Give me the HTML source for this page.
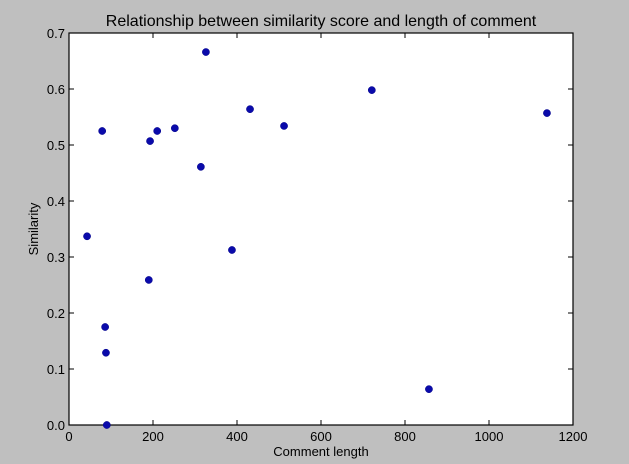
<!DOCTYPE html>
<html><head><meta charset="utf-8"><style>
body{margin:0;background:#bfbfbf;}
svg{display:block;font-family:"Liberation Sans",sans-serif;}
</style></head><body>
<svg id="chart" width="629" height="464">
<rect x="0" y="0" width="629" height="464" fill="#bfbfbf"/>
<text x="321" y="26" text-anchor="middle" font-size="16" fill="#000">Relationship between similarity score and length of comment</text>
<rect x="69" y="33" width="504" height="392" fill="#fff" stroke="#000" stroke-width="1.2"/>
<g id="ticks"></g>
<g id="points"></g>
<text x="321" y="456" text-anchor="middle" font-size="13">Comment length</text>
<text transform="translate(38,229) rotate(-90)" text-anchor="middle" font-size="13">Similarity</text>
</svg>
<script>
const lengths=[43,79,86,88,90,190,193,210,252,314,326,388,431,512,721,857,1138];
const similarity=[0.337,0.525,0.175,0.129,0.0,0.259,0.507,0.525,0.530,0.461,0.666,0.3125,0.564,0.534,0.598,0.064,0.557];
const xTicks=[0,200,400,600,800,1000,1200];
const yTicks=[0,0.1,0.2,0.3,0.4,0.5,0.6,0.7];
const NS="http://www.w3.org/2000/svg";
const L=69,R=573,T=33,B=425;
const sx=v=>L+(v/1200)*(R-L);
const sy=v=>B-(v/0.7)*(B-T);
const tg=document.getElementById('ticks');
function mk(tag,attrs,parent){const e=document.createElementNS(NS,tag);for(const k in attrs)e.setAttribute(k,attrs[k]);parent.appendChild(e);return e;}
xTicks.forEach(v=>{
  const x=sx(v);
  const t1=mk('line',{x1:x,x2:x,y1:B,y2:B-5,stroke:'#000'},tg);
  
  
  const t2=mk('line',{x1:x,x2:x,y1:T,y2:T+5,stroke:'#000'},tg);
  
  
  const lb=mk('text',{x:x,y:B+16,'text-anchor':'middle','font-size':13},tg);
  lb.textContent=v;
  
  
});
yTicks.forEach(v=>{
  const y=sy(v);
  const t1=mk('line',{x1:L,x2:L+5,y1:y,y2:y,stroke:'#000'},tg);
  
  
  const t2=mk('line',{x1:R,x2:R-5,y1:y,y2:y,stroke:'#000'},tg);
  
  
  const lb=mk('text',{x:L-4,y:y+5,'text-anchor':'end','font-size':13},tg);
  lb.textContent=v.toFixed(1);
  
  
});
const pg=document.getElementById('points');
lengths.forEach((v,i)=>{
  const c=mk('circle',{cx:sx(v),cy:sy(similarity[i]),r:3.6,fill:'#0a0aaa',stroke:'#00008b','stroke-width':0.5},pg);
  
  
});
</script>
</body></html>
